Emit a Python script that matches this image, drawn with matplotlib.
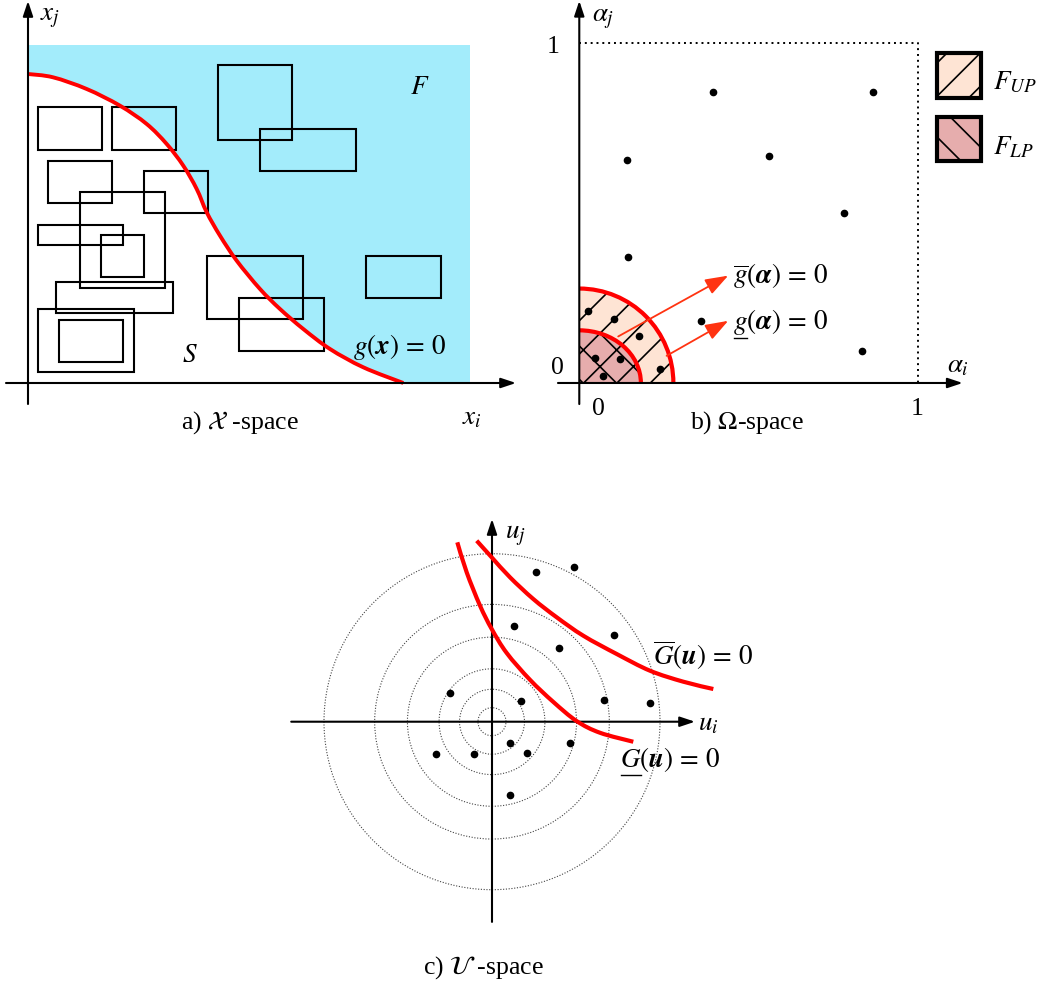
import matplotlib.pyplot as plt
import matplotlib.patches as mpatches
from matplotlib.path import Path
from matplotlib.lines import Line2D
from matplotlib.transforms import IdentityTransform

plt.rcParams['font.family'] = ['Liberation Serif', 'DejaVu Serif']
plt.rcParams['mathtext.fontset'] = 'stix'
plt.rcParams['hatch.linewidth'] = 1.2

FS = 18.5   # captions and tick numbers
MS = 19.5   # math labels
RED = '#ff0000'

# a) X-space: limit state g(x) = 0 and the sample boxes
g_x = [0, 25, 58.7, 92, 118.7, 138.7, 155.3, 168.7, 178.7, 192, 208.7, 232, 252,
       275.3, 302, 335.3, 375.3]
g_y = [309, 305.7, 294, 277.3, 259, 239, 217.3, 194, 170.7, 147.3, 122.3, 94, 74,
       54, 34, 15.7, 0]
feasible_box = (442, 338)
# x, y, width, height
boxes = [(9.7, 233, 64, 42.7), (84, 233, 64, 42.7), (189.7, 243.3, 74.6, 74.7),
         (232, 211.7, 96, 42.3), (20.3, 180, 64, 42.3), (116, 169.7, 63.7, 42.3),
         (52.3, 95.3, 85, 95.4), (9.7, 137.7, 85.3, 20.6), (73.3, 106.3, 42.7, 41.7),
         (28, 69.7, 116.7, 31.3), (9.7, 10.7, 96, 63.3), (31, 21.3, 64, 42),
         (179.3, 63.7, 95.7, 63.6), (211, 32, 85, 53), (338, 84.7, 74.7, 42.6)]

# b) Omega-space samples and the two failure regions
alpha_i = [0.396, 0.867, 0.142, 0.561, 0.783, 0.144, 0.360, 0.834, 0.027, 0.103,
           0.175, 0.047, 0.121, 0.071, 0.238]
alpha_j = [0.856, 0.856, 0.657, 0.667, 0.500, 0.370, 0.183, 0.094, 0.213, 0.188,
           0.137, 0.074, 0.071, 0.021, 0.041]
r_upper = 0.278
r_lower = (0.182, 0.155)

# c) U-space samples, probability rings and bounding limit states
u_i = [1.56, 2.94, 0.80, 4.37, 2.40, -1.50, 1.04, 4.01, 5.65, 0.64, 2.78, -2.00,
       -0.63, 1.26, 0.64]
u_j = [5.36, 5.51, 3.43, 3.10, 2.63, 1.03, 0.74, 0.76, 0.66, -0.76, -0.76, -1.14,
       -1.14, -1.12, -2.62]
rings = [0.5, 1.16, 1.89, 3.02, 4.19, 6.0]
G_up_x = [-0.546, -0.011, 0.643, 1.475, 2.311, 3.261, 4.454, 5.643, 6.832, 7.904]
G_up_y = [6.464, 5.871, 5.157, 4.382, 3.729, 3.071, 2.418, 1.821, 1.429, 1.168]
G_lo_x = [-1.239, -0.904, -0.429, -0.011, 0.525, 1.357, 2.189, 3.025, 3.857, 5.046]
G_lo_y = [6.407, 5.335, 4.148, 3.312, 2.454, 1.497, 0.707, 0.021, -0.395, -0.716]

W, H = 1041, 987
fig = plt.figure(figsize=(W / 100, H / 100), dpi=100)


def panel(x0, y0, x1, y1):
    ax = fig.add_axes([x0 / W, (H - y1) / H, (x1 - x0) / W, (y1 - y0) / H])
    ax.set_axis_off()
    return ax


def smooth(xs, ys, close_to=None):
    # cubic Bezier pieces through the given points (Catmull-Rom tangents)
    pts = list(zip(xs, ys))
    verts, codes = [pts[0]], [Path.MOVETO]
    n = len(pts)
    for i in range(n - 1):
        p0, p1 = pts[max(i - 1, 0)], pts[i]
        p2, p3 = pts[i + 1], pts[min(i + 2, n - 1)]
        c1 = (p1[0] + (p2[0] - p0[0]) / 6, p1[1] + (p2[1] - p0[1]) / 6)
        c2 = (p2[0] - (p3[0] - p1[0]) / 6, p2[1] - (p3[1] - p1[1]) / 6)
        verts += [c1, c2, p2]
        codes += [Path.CURVE4] * 3
    if close_to is not None:
        verts += [close_to, pts[0]]
        codes += [Path.LINETO, Path.CLOSEPOLY]
    return Path(verts, codes)


def axis_arrow(ax, start, end, color='k', lw=1.5, hl=0.9, hw=0.3):
    ax.annotate('', xy=end, xytext=start,
                arrowprops=dict(arrowstyle='-|>,head_length=%g,head_width=%g' % (hl, hw),
                                color=color, lw=lw, shrinkA=0, shrinkB=0),
                annotation_clip=False)


def underline_first(txt, first, pad=2.0):
    r = fig.canvas.get_renderer()
    bb = txt.get_window_extent(r)
    probe = fig.text(0, 0, first, fontsize=txt.get_fontsize())
    w = probe.get_window_extent(r).width
    probe.remove()
    y = bb.y0 - pad
    fig.add_artist(Line2D([bb.x0 + 1, bb.x0 + w - 1], [y, y], color='k', lw=1.0,
                          transform=IdentityTransform()))


EQ = r'\,=\,0$'

# ---------------- a) ----------------
ax = panel(0, 0, 520, 440)
ax.set_xlim(-28, 492)
ax.set_ylim(-56, 384)
ax.add_patch(mpatches.Rectangle((0, 0), *feasible_box, facecolor='#a3ecfb',
                                edgecolor='none', zorder=0))
ax.add_patch(mpatches.PathPatch(smooth(g_x, g_y, close_to=(0, 0)), facecolor='white',
                                edgecolor='none', zorder=1))
for x, y, w, h in boxes:
    ax.add_patch(mpatches.Rectangle((x, y), w, h, fill=False, edgecolor='k',
                                    lw=1.5, zorder=2))
ax.add_patch(mpatches.PathPatch(smooth(g_x, g_y), fill=False, edgecolor=RED, lw=2.8,
                                zorder=3))
axis_arrow(ax, (-22, 0), (488, 0))
axis_arrow(ax, (0, -21), (0, 382))
ax.text(22, 366, '$x_j$', fontsize=MS, ha='center', va='center')
ax.text(444, -34, '$x_i$', fontsize=MS, ha='center', va='center')
ax.text(392, 296, '$F$', fontsize=MS, ha='center', va='center')
ax.text(162, 28, '$S$', fontsize=MS, ha='center', va='center')
ax.text(325, 37, r'$g(\boldsymbol{x})' + EQ, fontsize=MS, ha='left', va='center')
ax.text(212, -39, r'a) $\mathcal{X}$ -space', fontsize=FS, ha='center', va='center')

# ---------------- b) ----------------
ax = panel(540, 0, 1041, 440)
ax.set_xlim(-0.1161, 1.3644)
ax.set_ylim(-0.1649, 1.1304)
unit = mpatches.Rectangle((0, 0), 1, 1, transform=ax.transData)
ax.add_patch(mpatches.Wedge((0, 0), r_upper, 0, 90, facecolor='#fee4d4',
                            edgecolor='k', hatch='/', lw=0, zorder=1))
inner = mpatches.Ellipse((0, 0), 2 * r_lower[0], 2 * r_lower[1], facecolor='#e6adad',
                         edgecolor='k', hatch='x', lw=0, zorder=2)
ax.add_patch(inner)
inner.set_clip_path(unit)
ax.add_patch(mpatches.Arc((0, 0), 2 * r_upper, 2 * r_upper, theta1=0, theta2=90,
                          color=RED, lw=3, zorder=3))
ax.add_patch(mpatches.Arc((0, 0), 2 * r_lower[0], 2 * r_lower[1], theta1=0, theta2=90,
                          color=RED, lw=3, zorder=3))
ax.plot([0, 1, 1], [1, 1, 0], color='k', lw=1.4, linestyle=(0, (1, 2)), zorder=1)
ax.plot(alpha_i, alpha_j, 'o', color='k', ms=4.5, zorder=4)
axis_arrow(ax, (-0.063, 0), (1.133, 0))
axis_arrow(ax, (0, -0.062), (0, 1.125))
axis_arrow(ax, (0.115, 0.137), (0.440, 0.316), color='#ff3311', lw=1.3, hl=1.4, hw=0.5)
axis_arrow(ax, (0.258, 0.080), (0.440, 0.183), color='#ff3311', lw=1.3, hl=1.4, hw=0.5)
ax.text(-0.078, 0.992, '1', fontsize=FS, ha='center', va='center')
ax.text(-0.066, 0.047, '0', fontsize=FS, ha='center', va='center')
ax.text(0.058, -0.074, '0', fontsize=FS, ha='center', va='center')
ax.text(0.998, -0.074, '1', fontsize=FS, ha='center', va='center')
ax.text(0.07, 1.077, r'$\alpha_j$', fontsize=MS, ha='center', va='center')
ax.text(1.118, 0.053, r'$\alpha_i$', fontsize=MS, ha='center', va='center')
ax.text(0.454, 0.318, r'$\overline{g}(\boldsymbol{\alpha})' + EQ, fontsize=MS,
        ha='left', va='center')
g_low = ax.text(0.454, 0.183, r'$g(\boldsymbol{\alpha})' + EQ, fontsize=MS,
                ha='left', va='center')
ax.text(0.495, -0.115, r'b) $\Omega$-space', fontsize=FS, ha='center', va='center')
ax.add_patch(mpatches.Rectangle((1.058, 0.839), 0.129, 0.131, facecolor='#fee4d4',
                                edgecolor='k', hatch='/', lw=3, clip_on=False))
ax.add_patch(mpatches.Rectangle((1.058, 0.654), 0.129, 0.130, facecolor='#e6adad',
                                edgecolor='k', hatch='\\', lw=3, clip_on=False))
ax.text(1.223, 0.886, '$F_{UP}$', fontsize=MS, ha='left', va='center')
ax.text(1.223, 0.695, '$F_{LP}$', fontsize=MS, ha='left', va='center')

# ---------------- c) ----------------
ax = panel(280, 500, 760, 987)
ax.set_xlim(-7.571, 9.571)
ax.set_ylim(-9.439, 7.954)
for r in rings:
    ax.add_patch(mpatches.Circle((0, 0), r, fill=False, edgecolor='#444444', lw=0.8,
                                 linestyle=(0, (1, 1.5)), zorder=1))
axis_arrow(ax, (-7.17, 0), (7.25, 0))
axis_arrow(ax, (0, -7.15), (0, 7.24))
for cx, cy in ((G_up_x, G_up_y), (G_lo_x, G_lo_y)):
    ax.add_patch(mpatches.PathPatch(smooth(cx, cy), fill=False, edgecolor=RED, lw=3,
                                    zorder=3))
ax.plot(u_i, u_j, 'o', color='k', ms=4.5, zorder=4)
ax.text(0.82, 6.67, '$u_j$', fontsize=MS, ha='center', va='center')
ax.text(7.71, -0.05, '$u_i$', fontsize=MS, ha='center', va='center')
ax.text(5.75, 2.42, r'$\overline{G}(\boldsymbol{u})' + EQ, fontsize=MS,
        ha='left', va='center')
G_low = ax.text(4.57, -1.33, r'$G(\boldsymbol{u})' + EQ, fontsize=MS,
                ha='left', va='center')
ax.text(-0.29, -8.76, r'c) $\mathcal{U}$ -space', fontsize=FS, ha='center', va='center')

fig.canvas.draw()
underline_first(g_low, '$g$')
underline_first(G_low, '$G$')

fig.savefig('out.png', dpi=100)
